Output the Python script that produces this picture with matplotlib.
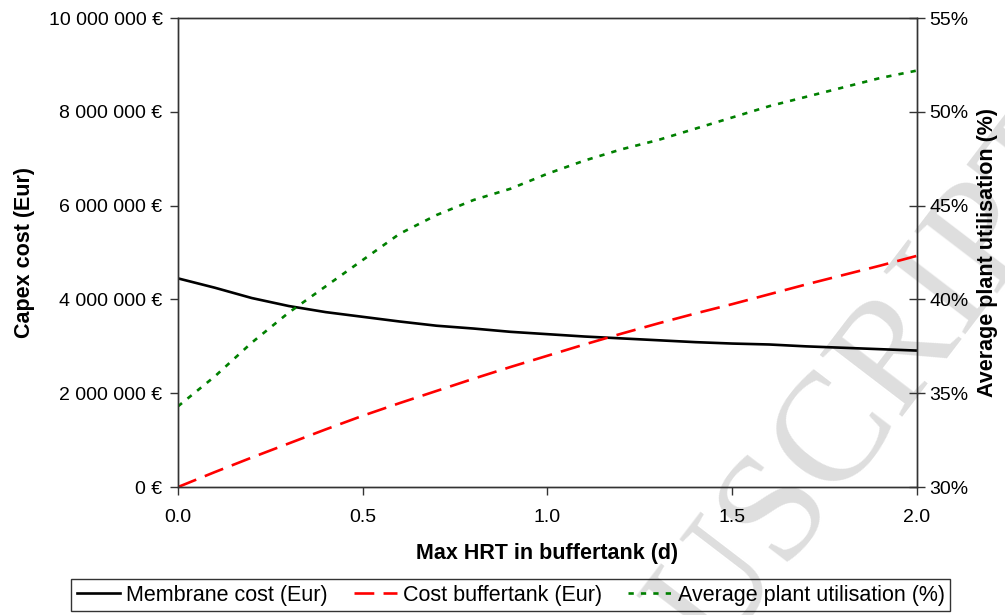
import matplotlib
matplotlib.use("Agg")
import matplotlib.pyplot as plt
import matplotlib.ticker as mticker

plt.rcParams['font.family'] = ['Liberation Sans', 'DejaVu Sans']

# values
hrt = [0.0, 0.1, 0.2, 0.3, 0.4, 0.5, 0.6, 0.7, 0.8, 0.9, 1.0,
       1.1, 1.2, 1.3, 1.4, 1.5, 1.6, 1.7, 1.8, 1.9, 2.0]
membrane_cost = [4.45e6, 4.25e6, 4.03e6, 3.86e6, 3.73e6, 3.63e6, 3.53e6, 3.44e6,
                 3.38e6, 3.31e6, 3.26e6, 3.21e6, 3.17e6, 3.13e6, 3.09e6, 3.06e6,
                 3.04e6, 3.00e6, 2.97e6, 2.94e6, 2.91e6]
buffertank_cost = [0.0, 0.32e6, 0.63e6, 0.93e6, 1.23e6, 1.52e6, 1.79e6, 2.05e6,
                   2.31e6, 2.56e6, 2.80e6, 3.04e6, 3.27e6, 3.49e6, 3.70e6, 3.90e6,
                   4.11e6, 4.32e6, 4.52e6, 4.72e6, 4.93e6]
utilisation = [34.3, 35.9, 37.7, 39.3, 40.7, 42.1, 43.5, 44.5, 45.3, 45.9, 46.7,
               47.4, 48.0, 48.5, 49.1, 49.7, 50.3, 50.8, 51.3, 51.8, 52.2]

fig = plt.figure(figsize=(10.05, 6.15), dpi=100)
ax = fig.add_axes([0.177, 0.208, 0.7354, 0.7627])
ax.set_facecolor('none')
ax2 = ax.twinx()

# watermark
fig.text(0.712, -0.07, 'USCRIPT', rotation=52.6, rotation_mode='anchor',
         ha='left', va='baseline', fontsize=112, family='Liberation Serif',
         color='#dedede', zorder=-5)

l1, = ax.plot(hrt, membrane_cost, color='black', lw=1.9,
              label='Membrane cost (Eur)')
l2, = ax.plot(hrt, buffertank_cost, color='#ff0000', lw=1.9,
              dashes=(7.5, 3.5), label='Cost buffertank (Eur)')
l3, = ax2.plot(hrt, utilisation, color='#008000', lw=1.9,
               dashes=(2.0, 2.7), label='Average plant utilisation (%)')

ax.set_xlim(0, 2)
ax.set_ylim(0, 10e6)
ax2.set_ylim(30, 55)
ax.set_xticks([0, 0.5, 1.0, 1.5, 2.0])
ax.xaxis.set_major_formatter(mticker.FormatStrFormatter('%.1f'))
ax.set_yticks(range(0, 10000001, 2000000))
ax.yaxis.set_major_formatter(mticker.FuncFormatter(
    lambda v, p: '{:,.0f} €'.format(v).replace(',', ' ')))
ax2.set_yticks(range(30, 56, 5))
ax2.yaxis.set_major_formatter(mticker.FuncFormatter(lambda v, p: '%d%%' % v))

for a in (ax, ax2):
    for s in a.spines.values():
        s.set_color('#333333')
        s.set_linewidth(1.0)
ax.tick_params(axis='both', labelsize=14, length=6, width=1, color='#333333',
               direction='out', pad=5)
ax.tick_params(axis='x', pad=10)
ax2.tick_params(axis='y', labelsize=14, length=12, width=1, color='#333333',
                direction='inout', pad=3)

ax.set_xlabel('Max HRT in buffertank (d)', fontsize=15.5, fontweight='bold',
              labelpad=12)
ax.set_ylabel('Capex cost (Eur)', fontsize=15.5, fontweight='bold', labelpad=10)
ax2.set_ylabel('Average plant utilisation (%)', fontsize=15.5,
               fontweight='bold', labelpad=6)

leg = fig.legend(handles=[l1, l2, l3], loc='center', ncol=3,
                 bbox_to_anchor=(0.508, 0.0325), fontsize=15.5, frameon=True,
                 fancybox=False, edgecolor='black', facecolor='none',
                 handlelength=2.0, handletextpad=0.3, columnspacing=1.2,
                 borderpad=0.25, borderaxespad=0)
leg.get_frame().set_linewidth(1.0)

fig.savefig('out.png', dpi=100)
